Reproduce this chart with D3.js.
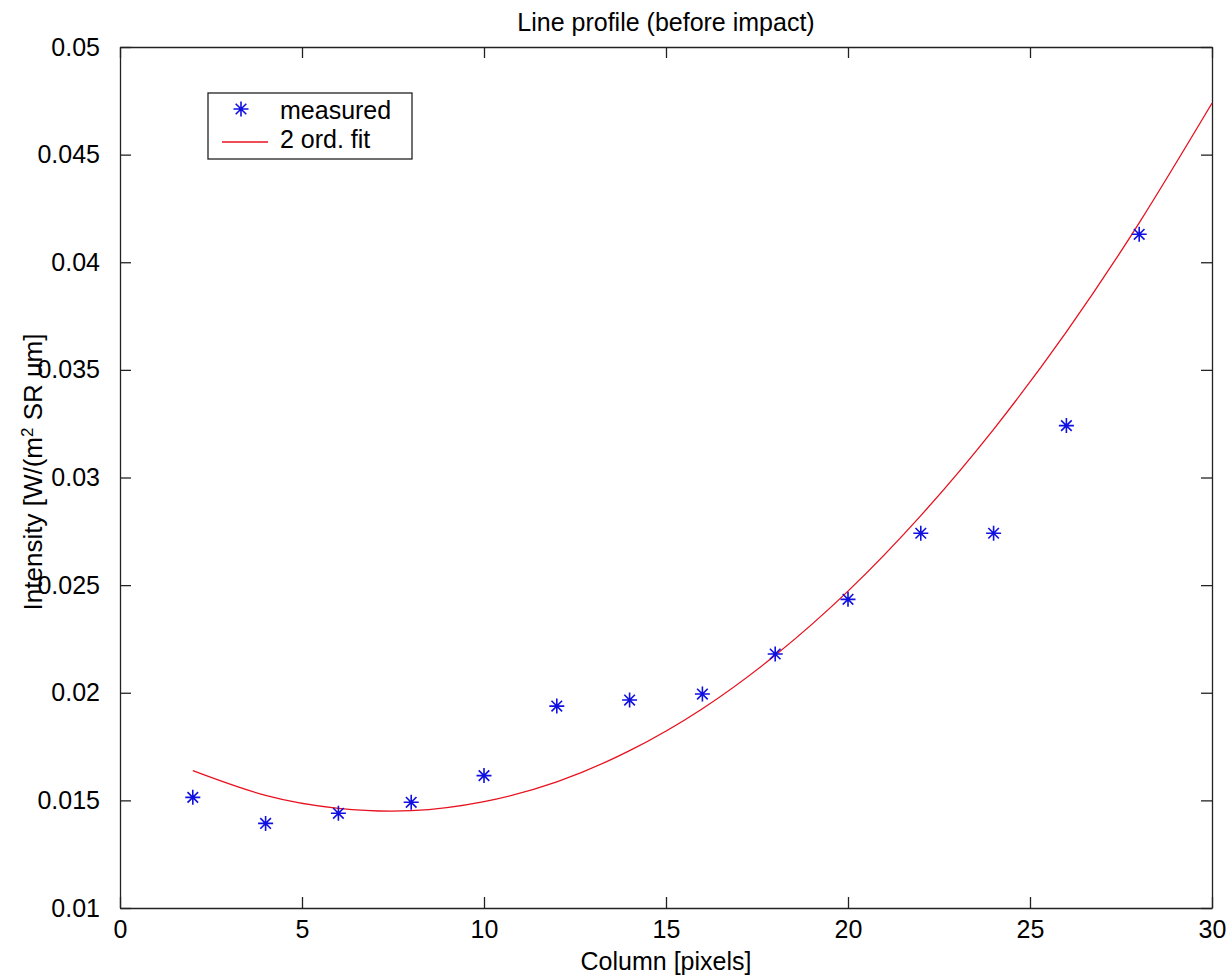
<!DOCTYPE html>
<html>
<head>
<meta charset="utf-8">
<script src="https://cdn.jsdelivr.net/npm/d3@7"></script>
<style>
  body { margin: 0; background: #fff; }
  text { font-family: Arial, "Liberation Sans", sans-serif; fill: #000; }
</style>
</head>
<body>
<div id="chart"></div>
<script>
// measured line profile (column, intensity)
const columns = [2, 4, 6, 8, 10, 12, 14, 16, 18, 20, 22, 24, 26, 28];
const measured = [0.01514, 0.01393, 0.0144, 0.01491, 0.01615, 0.01938, 0.01966,
                  0.01994, 0.0218, 0.02434, 0.02741, 0.02741, 0.03241, 0.0413];
// 2nd order fit
const fitColumns = [2, 4, 6, 8, 10, 12, 14, 16, 18, 20, 22, 24, 26, 28, 30];
const fitValues = [0.01638, 0.01523, 0.01463, 0.01452, 0.01494, 0.01586, 0.01731,
                   0.01926, 0.02174, 0.02472, 0.02823, 0.03224, 0.03677, 0.04183, 0.04739];
const xTicks = [0, 5, 10, 15, 20, 25, 30];
const yTicks = [0.01, 0.015, 0.02, 0.025, 0.03, 0.035, 0.04, 0.045, 0.05];

const width = 1228, height = 978;
const margin = {top: 47, right: 16, bottom: 70, left: 120};
const w = width - margin.left - margin.right;
const h = height - margin.top - margin.bottom;
const tickLen = 11;
const fontPx = "25px";

const svg = d3.select("#chart")
    .append("svg")
        .attr("width", width)
        .attr("height", height);

const g = svg.append("g")
    .attr("transform", `translate(${margin.left},${margin.top})`);

const x = d3.scaleLinear().domain([0, 30]).range([0, w]);
const y = d3.scaleLinear().domain([0.01, 0.05]).range([h, 0]);

// axes - ticks pointing inwards, box all round
const fmt = d => String(+d.toFixed(3));
const axBottom = g.append("g")
    .attr("transform", `translate(0,${h})`)
    .call(d3.axisBottom(x).tickValues(xTicks).tickSizeInner(-tickLen).tickSizeOuter(0).tickPadding(12).tickFormat(fmt));
const axLeft = g.append("g")
    .call(d3.axisLeft(y).tickValues(yTicks).tickSizeInner(-tickLen).tickSizeOuter(0).tickPadding(20).tickFormat(fmt));
const axTop = g.append("g")
    .call(d3.axisTop(x).tickValues(xTicks).tickSizeInner(-tickLen).tickSizeOuter(0).tickFormat(""));
const axRight = g.append("g")
    .attr("transform", `translate(${w},0)`)
    .call(d3.axisRight(y).tickValues(yTicks).tickSizeInner(-tickLen).tickSizeOuter(0).tickFormat(""));

[axBottom, axLeft, axTop, axRight].forEach(a => {
    a.select(".domain").attr("stroke", "#222").attr("stroke-width", 1.3);
    a.selectAll(".tick line").attr("stroke", "#222").attr("stroke-width", 1.3);
    a.selectAll("text").style("font-size", fontPx).attr("fill", "#000");
});
axBottom.selectAll(".tick text").attr("dy", "0.71em");

// fit curve
const line = d3.line()
    .x((d, i) => x(fitColumns[i]))
    .y(d => y(d))
    .curve(d3.curveNatural);
g.append("path")
    .datum(fitValues)
    .attr("fill", "none")
    .attr("stroke", "#e8101e")
    .attr("stroke-width", 1.3)
    .attr("d", line);

// star marker like matlab '*'
const r = 7.5, dd = 5.3;
const star = `M${-r},0H${r}M0,${-r}V${r}M${-dd},${-dd}L${dd},${dd}M${-dd},${dd}L${dd},${-dd}`;
g.selectAll(".pt")
    .data(measured)
    .enter()
    .append("path")
        .attr("class", "pt")
        .attr("transform", (d, i) => `translate(${x(columns[i])},${y(d)})`)
        .attr("d", star)
        .attr("fill", "none")
        .attr("stroke", "#1010e0")
        .attr("stroke-width", 1.6);

// legend
const legend = svg.append("g").attr("transform", "translate(208,93)");
legend.append("rect")
    .attr("width", 204).attr("height", 66)
    .attr("fill", "#fff").attr("stroke", "#222").attr("stroke-width", 1.3);
legend.append("path")
    .attr("transform", "translate(33,16)")
    .attr("d", star).attr("fill", "none").attr("stroke", "#1010e0").attr("stroke-width", 1.6);
legend.append("line")
    .attr("x1", 14).attr("x2", 60).attr("y1", 49).attr("y2", 49)
    .attr("stroke", "#e8101e").attr("stroke-width", 1.3);
legend.append("text").attr("x", 72).attr("y", 26).style("font-size", fontPx).text("measured");
legend.append("text").attr("x", 72).attr("y", 55).style("font-size", fontPx).text("2 ord. fit");

// title and labels
svg.append("text")
    .attr("x", margin.left + w / 2)
    .attr("y", 31)
    .attr("text-anchor", "middle")
    .style("font-size", fontPx)
    .text("Line profile (before impact)");

svg.append("text")
    .attr("x", margin.left + w / 2)
    .attr("y", 970)
    .attr("text-anchor", "middle")
    .style("font-size", fontPx)
    .text("Column [pixels]");

const yl = svg.append("text")
    .attr("transform", "translate(42,472) rotate(-90)")
    .attr("text-anchor", "middle")
    .style("font-size", "26px");
yl.append("tspan").text("Intensity [W/(m");
yl.append("tspan").attr("baseline-shift", "super").style("font-size", "17px").text("2");
yl.append("tspan").text(" SR um]");
</script>
</body>
</html>
